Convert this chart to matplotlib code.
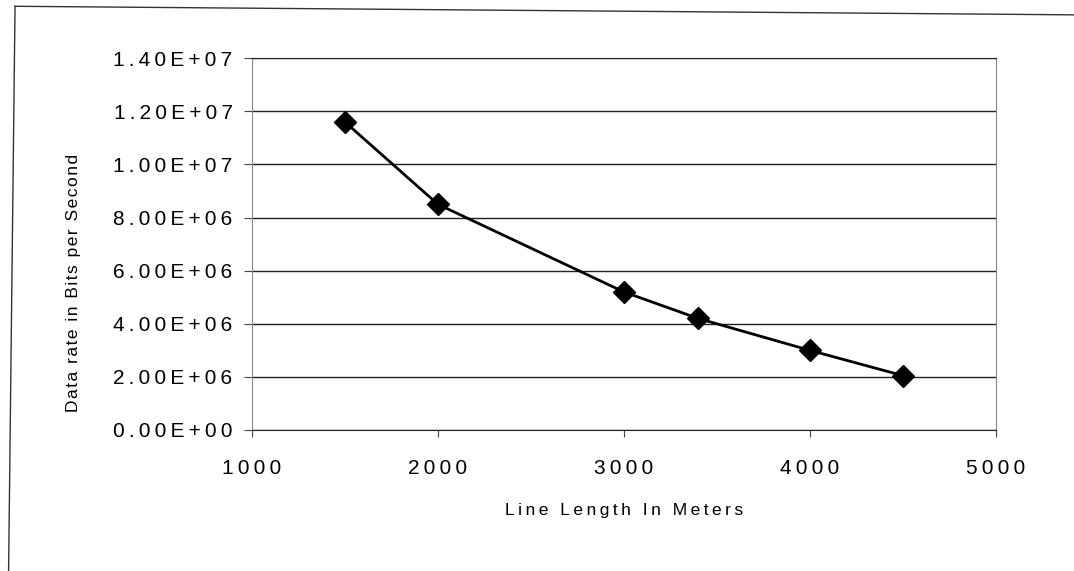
import matplotlib
matplotlib.use("Agg")
import matplotlib.pyplot as plt
from matplotlib.lines import Line2D
from matplotlib.ticker import FuncFormatter

line_length_m = [1500, 2000, 3000, 3400, 4000, 4500]
data_rate_bps = [1.16e7, 8.5e6, 5.2e6, 4.2e6, 3.0e6, 2.05e6]
y_ticks = [0, 2e6, 4e6, 6e6, 8e6, 1.0e7, 1.2e7, 1.4e7]
x_ticks = [1000, 2000, 3000, 4000, 5000]

plt.rcParams["font.family"] = ["Liberation Sans", "DejaVu Sans"]

THIN = "\u2009"
HAIR = "\u200a"


def spaced(s, gap):
    # widen letter spacing by putting a narrow space between characters
    return gap.join(s)


fig = plt.figure(figsize=(10.74, 5.71), dpi=100)
ax = fig.add_axes([0.2346, 0.247, 0.6924, 0.651])

ax.plot(line_length_m, data_rate_bps, color="black", lw=2,
        marker="D", markersize=11, markerfacecolor="black", zorder=3)

ax.set_xlim(1000, 5000)
ax.set_ylim(0, 1.4e7)
ax.set_xticks(x_ticks)
ax.set_yticks(y_ticks)


def sci_label(v, pos):
    return spaced(f"{v:.2E}", THIN)


ax.yaxis.set_major_formatter(FuncFormatter(sci_label))
ax.xaxis.set_major_formatter(FuncFormatter(lambda v, pos: spaced(f"{v:.0f}", THIN)))
ax.grid(axis="y", color="#222222", lw=1.0)
ax.set_axisbelow(True)

for side in ("left", "right"):
    ax.spines[side].set_color("#888888")
    ax.spines[side].set_linewidth(0.8)
ax.spines["top"].set_color("#222222")
ax.spines["bottom"].set_color("#222222")

ax.tick_params(axis="y", direction="out", length=6, width=0.8, color="#444444",
               labelsize=15, pad=8)
ax.tick_params(axis="x", direction="out", length=5, width=0.8, color="#444444",
               labelsize=15, pad=16)

ax.set_ylabel(spaced("Data rate in Bits per Second", HAIR), fontsize=12.5)
ax.yaxis.set_label_coords(-0.23, 0.395)
ax.set_xlabel(spaced("Line Length In Meters", THIN), fontsize=12.5, labelpad=18)

# outer chart border (top and left edges)
fig.add_artist(Line2D([0.014, 1.0], [0.989, 0.974], transform=fig.transFigure,
                      color="#333333", lw=1.0))
fig.add_artist(Line2D([0.014, 0.008], [0.989, 0.0], transform=fig.transFigure,
                      color="#333333", lw=1.0))

fig.savefig("out.png", dpi=100, facecolor="white")
